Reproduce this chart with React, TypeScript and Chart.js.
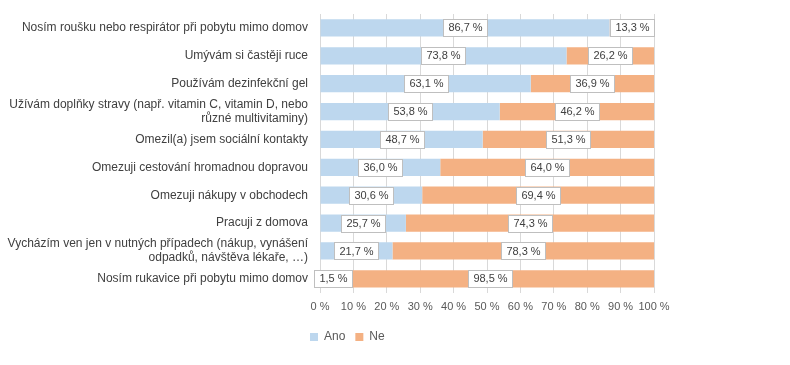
import React, { useEffect, useRef } from "react";
import { Chart, registerables } from "chart.js";

Chart.register(...registerables);

const categories: (string | string[])[] = [
  "Nosím roušku nebo respirátor při pobytu mimo domov",
  "Umývám si častěji ruce",
  "Používám dezinfekční gel",
  ["Užívám doplňky stravy (např. vitamin C, vitamin D, nebo", "různé multivitaminy)"],
  "Omezil(a) jsem sociální kontakty",
  "Omezuji cestování hromadnou dopravou",
  "Omezuji nákupy v obchodech",
  "Pracuji z domova",
  ["Vycházím ven jen v nutných případech (nákup, vynášení", "odpadků, návštěva lékaře, …)"],
  "Nosím rukavice při pobytu mimo domov",
];

const anoValues = [86.7, 73.8, 63.1, 53.8, 48.7, 36.0, 30.6, 25.7, 21.7, 1.5];
const neValues = [13.3, 26.2, 36.9, 46.2, 51.3, 64.0, 69.4, 74.3, 78.3, 98.5];

const seriesNames = ["Ano", "Ne"];
const FONT = "'Liberation Sans', Arial, sans-serif";

const fmt = (v: number) => v.toFixed(1).replace(".", ",") + " %";

const labelPlugin = {
  id: "boxLabels",
  afterLayout(chart: any) {
    if (chart.legend) {
      chart.legend.left = 300;
    }
  },
  afterDatasetsDraw(chart: any) {
    const ctx = chart.ctx;
    ctx.save();
    ctx.font = `11px ${FONT}`;
    ctx.textAlign = "center";
    ctx.textBaseline = "middle";
    chart.data.datasets.forEach((ds: any, di: number) => {
      const meta = chart.getDatasetMeta(di);
      meta.data.forEach((el: any, i: number) => {
        const text = fmt(ds.data[i]);
        const w = Math.round(ctx.measureText(text).width + 10);
        const h = 17;
        let cx = (el.x + el.base) / 2;
        const minLeft = chart.chartArea.left - 6;
        if (cx - w / 2 < minLeft) cx = minLeft + w / 2;
        const x0 = Math.round(cx - w / 2) + 0.5;
        const y0 = Math.round(el.y - h / 2) + 0.5;
        ctx.fillStyle = "#FFFFFF";
        ctx.fillRect(x0, y0, w, h);
        ctx.strokeStyle = "#BFBFBF";
        ctx.lineWidth = 1;
        ctx.strokeRect(x0, y0, w, h);
        ctx.fillStyle = "#404040";
        ctx.fillText(text, x0 + w / 2, el.y + 0.5);
      });
    });
    ctx.restore();
  },
};

export default function App() {
  const ref = useRef<HTMLCanvasElement>(null);
  useEffect(() => {
    const chart = new Chart(ref.current!, {
      type: "bar",
      data: {
        labels: categories,
        datasets: [
          { label: seriesNames[0], data: anoValues, backgroundColor: "#BDD7EE" },
          { label: seriesNames[1], data: neValues, backgroundColor: "#F4B183" },
        ],
      },
      options: {
        indexAxis: "y",
        animation: false,
        responsive: true,
        maintainAspectRatio: false,
        layout: { padding: { left: 0, right: 136, top: 14, bottom: 12 } },
        datasets: { bar: { categoryPercentage: 1, barPercentage: 0.62 } },
        plugins: {
          tooltip: { enabled: false },
          legend: {
            position: "bottom",
            align: "start",
            labels: {
              boxWidth: 8,
              boxHeight: 8,
              padding: 10,
              color: "#595959",
              font: { family: FONT, size: 12 },
            },
          },
        },
        scales: {
          x: {
            stacked: true,
            min: 0,
            max: 100,
            afterFit: (s: any) => {
              s.height -= 1;
              s.paddingLeft = 0;
              s.paddingRight = 0;
            },
            ticks: {
              stepSize: 10,
              autoSkip: false,
              callback: (v: any) => v + " %",
              color: "#595959",
              font: { family: FONT, size: 11 },
              padding: 8,
              maxRotation: 0,
            },
            grid: { color: "#D9D9D9", drawTicks: false },
            border: { display: false },
          },
          y: {
            stacked: true,
            afterFit: (s: any) => {
              s.width = 320;
              s.paddingTop = 0;
              s.paddingBottom = 0;
            },
            ticks: {
              color: "#404040",
              font: { family: FONT, size: 12 },
              padding: 12,
              autoSkip: false,
            },
            grid: { display: false, drawTicks: false },
            border: { display: false },
          },
        },
      },
      plugins: [labelPlugin],
    });
    return () => chart.destroy();
  }, []);
  return (
    <div style={{ position: "absolute", left: 0, top: 0, width: 790, height: 365, background: "#fff" }}>
      <canvas ref={ref} />
    </div>
  );
}
